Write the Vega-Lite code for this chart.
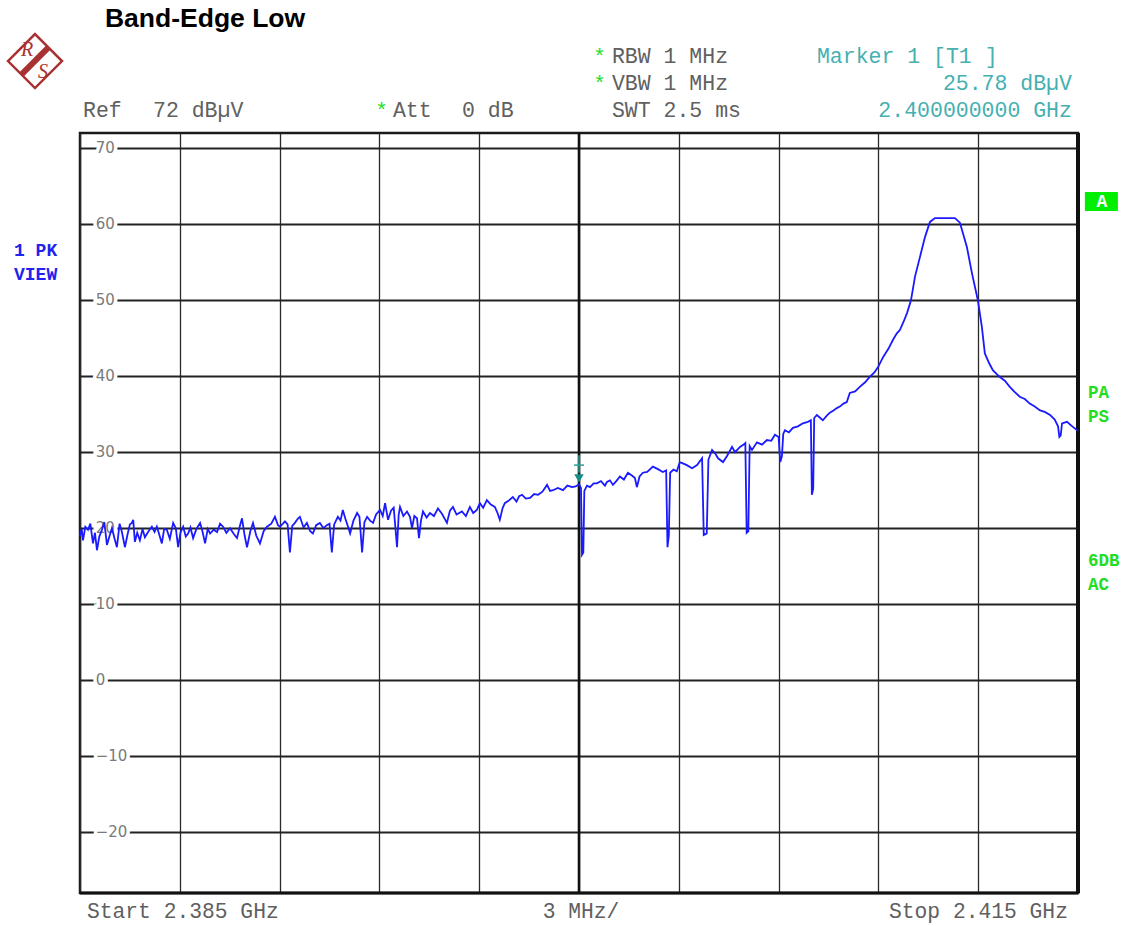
{
  "$schema": "https://vega.github.io/schema/vega-lite/v6.json",
  "width": 998,
  "height": 760,
  "autosize": {"type": "none"},
  "padding": {"left": 80, "top": 133, "right": 50, "bottom": 33},
  "background": "white",
  "data": {"values": [{}]},
  "datasets": {
    "levels": [
      {"v": 70, "t": "70"}, {"v": 60, "t": "60"}, {"v": 50, "t": "50"}, {"v": 40, "t": "40"},
      {"v": 30, "t": "30"}, {"v": 20, "t": "20"}, {"v": 10, "t": "10"}, {"v": 0, "t": "0"},
      {"v": -10, "t": "−10"}, {"v": -20, "t": "−20"}
    ],
    "trace": [
      {"freq": 2385.00, "dBuV": 19.0}, {"freq": 2385.05, "dBuV": 19.9}, {"freq": 2385.09, "dBuV": 18.4}, {"freq": 2385.16, "dBuV": 20.2}, {"freq": 2385.24, "dBuV": 19.8},
      {"freq": 2385.31, "dBuV": 20.6}, {"freq": 2385.39, "dBuV": 18.0}, {"freq": 2385.45, "dBuV": 19.4}, {"freq": 2385.51, "dBuV": 17.1}, {"freq": 2385.58, "dBuV": 18.9}, {"freq": 2385.66, "dBuV": 19.8},
      {"freq": 2385.73, "dBuV": 20.8}, {"freq": 2385.81, "dBuV": 17.8}, {"freq": 2385.89, "dBuV": 19.0}, {"freq": 2385.96, "dBuV": 20.0}, {"freq": 2386.04, "dBuV": 18.6}, {"freq": 2386.11, "dBuV": 17.5},
      {"freq": 2386.19, "dBuV": 20.6}, {"freq": 2386.26, "dBuV": 19.5}, {"freq": 2386.35, "dBuV": 17.5}, {"freq": 2386.43, "dBuV": 19.2}, {"freq": 2386.50, "dBuV": 20.5},
      {"freq": 2386.56, "dBuV": 20.7}, {"freq": 2386.60, "dBuV": 21.1}, {"freq": 2386.65, "dBuV": 18.2},
      {"freq": 2386.72, "dBuV": 19.4}, {"freq": 2386.80, "dBuV": 18.4}, {"freq": 2386.88, "dBuV": 19.9}, {"freq": 2386.95, "dBuV": 18.8}, {"freq": 2387.06, "dBuV": 19.6},
      {"freq": 2387.16, "dBuV": 20.2}, {"freq": 2387.24, "dBuV": 19.5}, {"freq": 2387.31, "dBuV": 20.2}, {"freq": 2387.38, "dBuV": 19.2}, {"freq": 2387.46, "dBuV": 18.0},
      {"freq": 2387.53, "dBuV": 19.9}, {"freq": 2387.61, "dBuV": 19.8}, {"freq": 2387.70, "dBuV": 18.6}, {"freq": 2387.80, "dBuV": 20.7}, {"freq": 2387.88, "dBuV": 20.0}, {"freq": 2387.95, "dBuV": 17.5},
      {"freq": 2388.02, "dBuV": 19.4}, {"freq": 2388.10, "dBuV": 20.2}, {"freq": 2388.18, "dBuV": 18.9}, {"freq": 2388.25, "dBuV": 19.3}, {"freq": 2388.32, "dBuV": 20.1}, {"freq": 2388.40, "dBuV": 18.7},
      {"freq": 2388.50, "dBuV": 19.9}, {"freq": 2388.61, "dBuV": 20.7}, {"freq": 2388.68, "dBuV": 19.6}, {"freq": 2388.76, "dBuV": 18.0},
      {"freq": 2388.84, "dBuV": 19.9}, {"freq": 2388.91, "dBuV": 19.3}, {"freq": 2389.02, "dBuV": 19.8}, {"freq": 2389.12, "dBuV": 19.5},
      {"freq": 2389.21, "dBuV": 20.6}, {"freq": 2389.30, "dBuV": 20.2}, {"freq": 2389.40, "dBuV": 19.4}, {"freq": 2389.51, "dBuV": 20.0},
      {"freq": 2389.63, "dBuV": 19.2}, {"freq": 2389.72, "dBuV": 18.7}, {"freq": 2389.80, "dBuV": 20.2}, {"freq": 2389.87, "dBuV": 21.3},
      {"freq": 2389.95, "dBuV": 19.0}, {"freq": 2390.02, "dBuV": 17.5}, {"freq": 2390.12, "dBuV": 19.6},
      {"freq": 2390.20, "dBuV": 20.7}, {"freq": 2390.30, "dBuV": 19.0}, {"freq": 2390.41, "dBuV": 18.0},
      {"freq": 2390.52, "dBuV": 19.6}, {"freq": 2390.62, "dBuV": 20.2}, {"freq": 2390.75, "dBuV": 20.6},
      {"freq": 2390.86, "dBuV": 21.5}, {"freq": 2390.95, "dBuV": 20.4}, {"freq": 2391.01, "dBuV": 20.2},
      {"freq": 2391.10, "dBuV": 20.6}, {"freq": 2391.16, "dBuV": 20.9}, {"freq": 2391.24, "dBuV": 20.5},
      {"freq": 2391.31, "dBuV": 16.8}, {"freq": 2391.38, "dBuV": 20.3}, {"freq": 2391.46, "dBuV": 20.7},
      {"freq": 2391.54, "dBuV": 21.2}, {"freq": 2391.61, "dBuV": 21.5}, {"freq": 2391.72, "dBuV": 20.1},
      {"freq": 2391.82, "dBuV": 20.7}, {"freq": 2391.92, "dBuV": 19.6}, {"freq": 2392.00, "dBuV": 19.3},
      {"freq": 2392.10, "dBuV": 20.4}, {"freq": 2392.21, "dBuV": 20.7}, {"freq": 2392.32, "dBuV": 20.0},
      {"freq": 2392.42, "dBuV": 20.4}, {"freq": 2392.50, "dBuV": 20.6}, {"freq": 2392.57, "dBuV": 16.8},
      {"freq": 2392.64, "dBuV": 20.5}, {"freq": 2392.75, "dBuV": 21.5}, {"freq": 2392.83, "dBuV": 21.0},
      {"freq": 2392.90, "dBuV": 22.4}, {"freq": 2392.98, "dBuV": 21.2}, {"freq": 2393.05, "dBuV": 20.3},
      {"freq": 2393.12, "dBuV": 19.3}, {"freq": 2393.22, "dBuV": 21.0}, {"freq": 2393.33, "dBuV": 22.0},
      {"freq": 2393.40, "dBuV": 21.5}, {"freq": 2393.48, "dBuV": 16.8}, {"freq": 2393.55, "dBuV": 20.8},
      {"freq": 2393.63, "dBuV": 21.5}, {"freq": 2393.72, "dBuV": 21.0}, {"freq": 2393.81, "dBuV": 20.7},
      {"freq": 2393.90, "dBuV": 21.8}, {"freq": 2394.02, "dBuV": 22.4}, {"freq": 2394.10, "dBuV": 21.6},
      {"freq": 2394.17, "dBuV": 23.3}, {"freq": 2394.26, "dBuV": 21.1}, {"freq": 2394.35, "dBuV": 22.3},
      {"freq": 2394.43, "dBuV": 22.7}, {"freq": 2394.53, "dBuV": 17.5}, {"freq": 2394.58, "dBuV": 21.8},
      {"freq": 2394.62, "dBuV": 22.8}, {"freq": 2394.72, "dBuV": 21.6}, {"freq": 2394.83, "dBuV": 22.2},
      {"freq": 2394.92, "dBuV": 21.5}, {"freq": 2394.98, "dBuV": 20.0}, {"freq": 2395.05, "dBuV": 21.6},
      {"freq": 2395.13, "dBuV": 21.3}, {"freq": 2395.19, "dBuV": 18.7}, {"freq": 2395.25, "dBuV": 21.0},
      {"freq": 2395.31, "dBuV": 22.2}, {"freq": 2395.42, "dBuV": 21.4}, {"freq": 2395.52, "dBuV": 22.0},
      {"freq": 2395.64, "dBuV": 21.6}, {"freq": 2395.76, "dBuV": 22.6}, {"freq": 2395.88, "dBuV": 21.9},
      {"freq": 2396.03, "dBuV": 20.7}, {"freq": 2396.12, "dBuV": 22.3}, {"freq": 2396.21, "dBuV": 22.8},
      {"freq": 2396.32, "dBuV": 21.8}, {"freq": 2396.48, "dBuV": 22.2}, {"freq": 2396.60, "dBuV": 21.6},
      {"freq": 2396.72, "dBuV": 22.8}, {"freq": 2396.82, "dBuV": 22.0}, {"freq": 2396.93, "dBuV": 22.4},
      {"freq": 2397.02, "dBuV": 23.3}, {"freq": 2397.12, "dBuV": 22.7}, {"freq": 2397.23, "dBuV": 23.7},
      {"freq": 2397.35, "dBuV": 23.1}, {"freq": 2397.47, "dBuV": 22.8}, {"freq": 2397.55, "dBuV": 22.0},
      {"freq": 2397.62, "dBuV": 21.1}, {"freq": 2397.70, "dBuV": 22.6}, {"freq": 2397.77, "dBuV": 23.3},
      {"freq": 2397.88, "dBuV": 23.6}, {"freq": 2398.01, "dBuV": 24.1}, {"freq": 2398.12, "dBuV": 23.5},
      {"freq": 2398.20, "dBuV": 24.2}, {"freq": 2398.29, "dBuV": 24.4}, {"freq": 2398.40, "dBuV": 23.9},
      {"freq": 2398.53, "dBuV": 24.0}, {"freq": 2398.65, "dBuV": 24.5}, {"freq": 2398.77, "dBuV": 24.4},
      {"freq": 2398.90, "dBuV": 24.8}, {"freq": 2399.04, "dBuV": 25.7}, {"freq": 2399.13, "dBuV": 24.9},
      {"freq": 2399.22, "dBuV": 25.0}, {"freq": 2399.36, "dBuV": 25.3}, {"freq": 2399.52, "dBuV": 25.0},
      {"freq": 2399.65, "dBuV": 25.6}, {"freq": 2399.79, "dBuV": 25.4}, {"freq": 2399.90, "dBuV": 25.5},
      {"freq": 2400.00, "dBuV": 25.78}, {"freq": 2400.06, "dBuV": 25.3}, {"freq": 2400.09, "dBuV": 16.5},
      {"freq": 2400.13, "dBuV": 16.8}, {"freq": 2400.16, "dBuV": 24.9}, {"freq": 2400.24, "dBuV": 25.6},
      {"freq": 2400.33, "dBuV": 25.4}, {"freq": 2400.44, "dBuV": 25.9}, {"freq": 2400.54, "dBuV": 25.9},
      {"freq": 2400.66, "dBuV": 26.2}, {"freq": 2400.78, "dBuV": 25.6}, {"freq": 2400.84, "dBuV": 26.1},
      {"freq": 2400.93, "dBuV": 26.3}, {"freq": 2401.02, "dBuV": 25.7}, {"freq": 2401.12, "dBuV": 26.2},
      {"freq": 2401.23, "dBuV": 26.8}, {"freq": 2401.35, "dBuV": 26.4}, {"freq": 2401.47, "dBuV": 27.3},
      {"freq": 2401.60, "dBuV": 26.9}, {"freq": 2401.68, "dBuV": 26.6}, {"freq": 2401.74, "dBuV": 25.4},
      {"freq": 2401.82, "dBuV": 26.8}, {"freq": 2401.92, "dBuV": 27.3}, {"freq": 2402.05, "dBuV": 27.4},
      {"freq": 2402.22, "dBuV": 28.1}, {"freq": 2402.36, "dBuV": 27.8}, {"freq": 2402.52, "dBuV": 27.4},
      {"freq": 2402.62, "dBuV": 27.6}, {"freq": 2402.66, "dBuV": 17.5}, {"freq": 2402.70, "dBuV": 19.0},
      {"freq": 2402.74, "dBuV": 27.3}, {"freq": 2402.84, "dBuV": 27.7}, {"freq": 2402.94, "dBuV": 27.5},
      {"freq": 2403.03, "dBuV": 28.7}, {"freq": 2403.14, "dBuV": 28.5}, {"freq": 2403.24, "dBuV": 28.3},
      {"freq": 2403.40, "dBuV": 27.9}, {"freq": 2403.55, "dBuV": 28.3}, {"freq": 2403.70, "dBuV": 29.2},
      {"freq": 2403.75, "dBuV": 19.1}, {"freq": 2403.84, "dBuV": 19.3}, {"freq": 2403.89, "dBuV": 29.0},
      {"freq": 2404.00, "dBuV": 30.3}, {"freq": 2404.10, "dBuV": 29.8}, {"freq": 2404.18, "dBuV": 29.2},
      {"freq": 2404.33, "dBuV": 28.7}, {"freq": 2404.45, "dBuV": 29.5}, {"freq": 2404.60, "dBuV": 30.7},
      {"freq": 2404.69, "dBuV": 30.0}, {"freq": 2404.84, "dBuV": 30.7}, {"freq": 2404.95, "dBuV": 31.0},
      {"freq": 2405.00, "dBuV": 31.2}, {"freq": 2405.04, "dBuV": 19.4}, {"freq": 2405.09, "dBuV": 19.6},
      {"freq": 2405.13, "dBuV": 30.8}, {"freq": 2405.20, "dBuV": 30.3}, {"freq": 2405.35, "dBuV": 31.3},
      {"freq": 2405.50, "dBuV": 31.0}, {"freq": 2405.65, "dBuV": 31.6}, {"freq": 2405.78, "dBuV": 31.5},
      {"freq": 2405.89, "dBuV": 32.3}, {"freq": 2406.00, "dBuV": 32.0}, {"freq": 2406.05, "dBuV": 28.7},
      {"freq": 2406.10, "dBuV": 29.5}, {"freq": 2406.14, "dBuV": 32.4}, {"freq": 2406.19, "dBuV": 32.9},
      {"freq": 2406.31, "dBuV": 32.6}, {"freq": 2406.43, "dBuV": 33.2}, {"freq": 2406.58, "dBuV": 33.4},
      {"freq": 2406.73, "dBuV": 33.8}, {"freq": 2406.88, "dBuV": 34.0}, {"freq": 2406.97, "dBuV": 34.2},
      {"freq": 2407.00, "dBuV": 24.4}, {"freq": 2407.04, "dBuV": 25.2}, {"freq": 2407.07, "dBuV": 34.5},
      {"freq": 2407.15, "dBuV": 34.9}, {"freq": 2407.33, "dBuV": 34.2}, {"freq": 2407.45, "dBuV": 34.8},
      {"freq": 2407.54, "dBuV": 35.2}, {"freq": 2407.65, "dBuV": 35.5}, {"freq": 2407.75, "dBuV": 35.8},
      {"freq": 2407.84, "dBuV": 36.0}, {"freq": 2407.95, "dBuV": 36.4}, {"freq": 2408.05, "dBuV": 36.6},
      {"freq": 2408.14, "dBuV": 37.8}, {"freq": 2408.30, "dBuV": 38.0}, {"freq": 2408.44, "dBuV": 38.6},
      {"freq": 2408.60, "dBuV": 39.2}, {"freq": 2408.74, "dBuV": 39.9}, {"freq": 2408.88, "dBuV": 40.5},
      {"freq": 2408.99, "dBuV": 41.2}, {"freq": 2409.14, "dBuV": 42.5}, {"freq": 2409.30, "dBuV": 43.6},
      {"freq": 2409.44, "dBuV": 44.8}, {"freq": 2409.55, "dBuV": 45.6}, {"freq": 2409.65, "dBuV": 46.1},
      {"freq": 2409.76, "dBuV": 47.2}, {"freq": 2409.86, "dBuV": 48.3}, {"freq": 2409.98, "dBuV": 50.0},
      {"freq": 2410.10, "dBuV": 53.1}, {"freq": 2410.25, "dBuV": 55.7}, {"freq": 2410.40, "dBuV": 58.3},
      {"freq": 2410.55, "dBuV": 60.3}, {"freq": 2410.70, "dBuV": 60.8}, {"freq": 2411.30, "dBuV": 60.8},
      {"freq": 2411.45, "dBuV": 60.2}, {"freq": 2411.66, "dBuV": 57.0}, {"freq": 2411.81, "dBuV": 53.6},
      {"freq": 2411.99, "dBuV": 50.0}, {"freq": 2412.11, "dBuV": 46.5}, {"freq": 2412.20, "dBuV": 43.0},
      {"freq": 2412.32, "dBuV": 41.8}, {"freq": 2412.44, "dBuV": 40.8}, {"freq": 2412.55, "dBuV": 40.3},
      {"freq": 2412.65, "dBuV": 39.9}, {"freq": 2412.80, "dBuV": 39.4}, {"freq": 2412.95, "dBuV": 38.6},
      {"freq": 2413.10, "dBuV": 37.9}, {"freq": 2413.25, "dBuV": 37.3}, {"freq": 2413.40, "dBuV": 37.0},
      {"freq": 2413.55, "dBuV": 36.4}, {"freq": 2413.70, "dBuV": 36.0}, {"freq": 2413.86, "dBuV": 35.5},
      {"freq": 2414.00, "dBuV": 35.3}, {"freq": 2414.16, "dBuV": 34.9}, {"freq": 2414.30, "dBuV": 34.3},
      {"freq": 2414.40, "dBuV": 33.4}, {"freq": 2414.44, "dBuV": 32.0}, {"freq": 2414.48, "dBuV": 32.2},
      {"freq": 2414.52, "dBuV": 33.8}, {"freq": 2414.67, "dBuV": 34.0}, {"freq": 2414.80, "dBuV": 33.5},
      {"freq": 2414.97, "dBuV": 32.9}, {"freq": 2415.00, "dBuV": 32.8}
    ]
  },
  "config": {
    "view": {"stroke": "#1a1a1a", "strokeWidth": 2.5},
    "text": {"font": "Liberation Mono"}
  },
  "layer": [
    {
      "data": {"name": "trace"},
      "mark": {"type": "line", "color": "#1414f0", "strokeWidth": 1.4, "opacity": 0},
      "encoding": {
        "x": {"field": "freq", "type": "quantitative",
              "scale": {"domain": [2385, 2415], "nice": false, "zero": false},
              "axis": {"values": [2385, 2388, 2391, 2394, 2397, 2400, 2403, 2406, 2409, 2412, 2415],
                       "grid": true, "gridColor": "#2a2a2a", "gridWidth": 1.3, "gridOpacity": 1,
                       "labels": false, "ticks": false, "domain": false, "title": null}},
        "y": {"field": "dBuV", "type": "quantitative",
              "scale": {"domain": [-28, 72], "nice": false, "zero": false},
              "axis": {"values": [-20, -10, 0, 10, 20, 30, 40, 50, 60, 70],
                       "grid": true, "gridColor": "#222222", "gridWidth": 2, "gridOpacity": 1,
                       "labels": false, "ticks": false, "domain": false, "title": null}}
      }
    },
    {"mark": {"type": "rule", "color": "#111111", "strokeWidth": 2.6},
     "encoding": {"x": {"datum": 2400, "type": "quantitative"}}},
    {"mark": {"type": "rule", "color": "#111111", "strokeWidth": 4},
     "encoding": {"x": {"datum": 2415, "type": "quantitative"}}},
    {"mark": {"type": "rule", "color": "#111111", "strokeWidth": 3},
     "encoding": {"y": {"datum": -28, "type": "quantitative"}}},
    {
      "data": {"name": "levels"},
      "mark": {"type": "text", "font": "DejaVu Sans", "fontSize": 15, "align": "left", "baseline": "middle",
               "fill": "white", "stroke": "white", "strokeWidth": 7},
      "encoding": {"x": {"datum": 2385.47, "type": "quantitative"},
                   "y": {"field": "v", "type": "quantitative"},
                   "text": {"field": "t"}}
    },
    {
      "data": {"name": "levels"},
      "mark": {"type": "text", "font": "DejaVu Sans", "fontSize": 15, "align": "left", "baseline": "middle",
               "color": "#7a7a7a"},
      "encoding": {"x": {"datum": 2385.47, "type": "quantitative"},
                   "y": {"field": "v", "type": "quantitative"},
                   "text": {"field": "t"}}
    },
    {
      "data": {"name": "trace"},
      "mark": {"type": "line", "color": "#1a1aff", "strokeWidth": 1.8},
      "encoding": {"x": {"field": "freq", "type": "quantitative"},
                   "y": {"field": "dBuV", "type": "quantitative"}}
    },
    {"mark": {"type": "point", "shape": "triangle-down", "size": 90, "filled": true, "color": "#168c86", "opacity": 1},
     "encoding": {"x": {"datum": 2400, "type": "quantitative"}, "y": {"datum": 26.55, "type": "quantitative"}}},
    {"mark": {"type": "rule", "color": "#2a9f98", "strokeWidth": 1.5},
     "encoding": {"x": {"datum": 2400, "type": "quantitative"}, "y": {"datum": 29.6, "type": "quantitative"}, "y2": {"datum": 27.3}}},
    {"mark": {"type": "rule", "color": "#2a9f98", "strokeWidth": 1.5},
     "encoding": {"x": {"datum": 2399.85, "type": "quantitative"}, "x2": {"datum": 2400.15}, "y": {"datum": 28.3, "type": "quantitative"}}},

    {"mark": {"type": "text", "text": "Band-Edge Low", "font": "Liberation Sans", "fontWeight": "bold", "fontSize": 26.5, "align": "left", "baseline": "middle", "color": "#000000"},
     "encoding": {"x": {"datum": 2385.75, "type": "quantitative"}, "y": {"datum": 87.0, "type": "quantitative"}}},

    {"mark": {"type": "point", "shape": "diamond", "size": 2916, "filled": false, "color": "#a83232", "strokeWidth": 2.5, "opacity": 1},
     "encoding": {"x": {"datum": 2383.647, "type": "quantitative"}, "y": {"datum": 81.47, "type": "quantitative"}}},
    {"mark": {"type": "rule", "color": "#a83232", "strokeWidth": 6},
     "encoding": {"x": {"datum": 2384.06, "type": "quantitative"}, "y": {"datum": 83.3, "type": "quantitative"},
                  "x2": {"datum": 2383.23}, "y2": {"datum": 79.65}}},
    {"mark": {"type": "text", "text": "R", "font": "Liberation Serif", "fontStyle": "italic", "fontSize": 20, "align": "center", "baseline": "middle", "color": "#a83232"},
     "encoding": {"x": {"datum": 2383.41, "type": "quantitative"}, "y": {"datum": 82.9, "type": "quantitative"}}},
    {"mark": {"type": "text", "text": "S", "font": "Liberation Serif", "fontStyle": "italic", "fontSize": 20, "align": "center", "baseline": "middle", "color": "#a83232"},
     "encoding": {"x": {"datum": 2383.89, "type": "quantitative"}, "y": {"datum": 80.0, "type": "quantitative"}}},

    {"mark": {"type": "text", "text": "*", "fontSize": 21, "align": "center", "baseline": "middle", "color": "#22dd22"},
     "encoding": {"x": {"datum": 2400.615, "type": "quantitative"}, "y": {"datum": 82.05, "type": "quantitative"}}},
    {"mark": {"type": "text", "text": "RBW 1 MHz", "fontSize": 21.5, "align": "left", "baseline": "middle", "color": "#606060"},
     "encoding": {"x": {"datum": 2400.99, "type": "quantitative"}, "y": {"datum": 82.05, "type": "quantitative"}}},
    {"mark": {"type": "text", "text": "Marker 1 [T1 ]", "fontSize": 21.5, "align": "left", "baseline": "middle", "color": "#45b0b0"},
     "encoding": {"x": {"datum": 2407.152, "type": "quantitative"}, "y": {"datum": 82.05, "type": "quantitative"}}},

    {"mark": {"type": "text", "text": "*", "fontSize": 21, "align": "center", "baseline": "middle", "color": "#22dd22"},
     "encoding": {"x": {"datum": 2400.615, "type": "quantitative"}, "y": {"datum": 78.5, "type": "quantitative"}}},
    {"mark": {"type": "text", "text": "VBW 1 MHz", "fontSize": 21.5, "align": "left", "baseline": "middle", "color": "#606060"},
     "encoding": {"x": {"datum": 2400.99, "type": "quantitative"}, "y": {"datum": 78.5, "type": "quantitative"}}},
    {"mark": {"type": "text", "text": "25.78 dBµV", "fontSize": 21.5, "align": "right", "baseline": "middle", "color": "#45b0b0"},
     "encoding": {"x": {"datum": 2414.817, "type": "quantitative"}, "y": {"datum": 78.5, "type": "quantitative"}}},

    {"mark": {"type": "text", "text": "Ref", "fontSize": 21.5, "align": "left", "baseline": "middle", "color": "#606060"},
     "encoding": {"x": {"datum": 2385.09, "type": "quantitative"}, "y": {"datum": 74.85, "type": "quantitative"}}},
    {"mark": {"type": "text", "text": "72 dBµV", "fontSize": 21.5, "align": "left", "baseline": "middle", "color": "#606060"},
     "encoding": {"x": {"datum": 2387.194, "type": "quantitative"}, "y": {"datum": 74.85, "type": "quantitative"}}},
    {"mark": {"type": "text", "text": "*", "fontSize": 21, "align": "center", "baseline": "middle", "color": "#22dd22"},
     "encoding": {"x": {"datum": 2394.062, "type": "quantitative"}, "y": {"datum": 74.85, "type": "quantitative"}}},
    {"mark": {"type": "text", "text": "Att", "fontSize": 21.5, "align": "left", "baseline": "middle", "color": "#606060"},
     "encoding": {"x": {"datum": 2394.408, "type": "quantitative"}, "y": {"datum": 74.85, "type": "quantitative"}}},
    {"mark": {"type": "text", "text": "0 dB", "fontSize": 21.5, "align": "left", "baseline": "middle", "color": "#606060"},
     "encoding": {"x": {"datum": 2396.482, "type": "quantitative"}, "y": {"datum": 74.85, "type": "quantitative"}}},
    {"mark": {"type": "text", "text": "SWT 2.5 ms", "fontSize": 21.5, "align": "left", "baseline": "middle", "color": "#606060"},
     "encoding": {"x": {"datum": 2400.99, "type": "quantitative"}, "y": {"datum": 74.85, "type": "quantitative"}}},
    {"mark": {"type": "text", "text": "2.400000000 GHz", "fontSize": 21.5, "align": "right", "baseline": "middle", "color": "#45b0b0"},
     "encoding": {"x": {"datum": 2414.817, "type": "quantitative"}, "y": {"datum": 74.85, "type": "quantitative"}}},

    {"mark": {"type": "text", "text": "Start 2.385 GHz", "fontSize": 21.3, "align": "left", "baseline": "middle", "color": "#606060"},
     "encoding": {"x": {"datum": 2385.21, "type": "quantitative"}, "y": {"datum": -30.45, "type": "quantitative"}}},
    {"mark": {"type": "text", "text": "3 MHz/", "fontSize": 21.3, "align": "center", "baseline": "middle", "color": "#606060"},
     "encoding": {"x": {"datum": 2400.06, "type": "quantitative"}, "y": {"datum": -30.45, "type": "quantitative"}}},
    {"mark": {"type": "text", "text": "Stop 2.415 GHz", "fontSize": 21.3, "align": "right", "baseline": "middle", "color": "#606060"},
     "encoding": {"x": {"datum": 2414.697, "type": "quantitative"}, "y": {"datum": -30.45, "type": "quantitative"}}},

    {"mark": {"type": "text", "text": "1 PK", "fontSize": 18, "fontWeight": "bold", "align": "left", "baseline": "middle", "color": "#2222ee"},
     "encoding": {"x": {"datum": 2383.016, "type": "quantitative"}, "y": {"datum": 56.47, "type": "quantitative"}}},
    {"mark": {"type": "text", "text": "VIEW", "fontSize": 18, "fontWeight": "bold", "align": "left", "baseline": "middle", "color": "#2222ee"},
     "encoding": {"x": {"datum": 2383.016, "type": "quantitative"}, "y": {"datum": 53.32, "type": "quantitative"}}},

    {"mark": {"type": "rect", "color": "#00ee00", "opacity": 1},
     "encoding": {"x": {"datum": 2415.207, "type": "quantitative"}, "x2": {"datum": 2416.199},
                  "y": {"datum": 64.24, "type": "quantitative"}, "y2": {"datum": 61.74}}},
    {"mark": {"type": "text", "text": "A", "fontSize": 18, "fontWeight": "bold", "align": "center", "baseline": "middle", "color": "#ffffff"},
     "encoding": {"x": {"datum": 2415.718, "type": "quantitative"}, "y": {"datum": 62.92, "type": "quantitative"}}},
    {"mark": {"type": "text", "text": "PA", "fontSize": 17.5, "fontWeight": "bold", "align": "left", "baseline": "middle", "color": "#22dd22"},
     "encoding": {"x": {"datum": 2415.297, "type": "quantitative"}, "y": {"datum": 37.79, "type": "quantitative"}}},
    {"mark": {"type": "text", "text": "PS", "fontSize": 17.5, "fontWeight": "bold", "align": "left", "baseline": "middle", "color": "#22dd22"},
     "encoding": {"x": {"datum": 2415.297, "type": "quantitative"}, "y": {"datum": 34.63, "type": "quantitative"}}},
    {"mark": {"type": "text", "text": "6DB", "fontSize": 17.5, "fontWeight": "bold", "align": "left", "baseline": "middle", "color": "#22dd22"},
     "encoding": {"x": {"datum": 2415.297, "type": "quantitative"}, "y": {"datum": 15.68, "type": "quantitative"}}},
    {"mark": {"type": "text", "text": "AC", "fontSize": 17.5, "fontWeight": "bold", "align": "left", "baseline": "middle", "color": "#22dd22"},
     "encoding": {"x": {"datum": 2415.297, "type": "quantitative"}, "y": {"datum": 12.53, "type": "quantitative"}}}
  ]
}
